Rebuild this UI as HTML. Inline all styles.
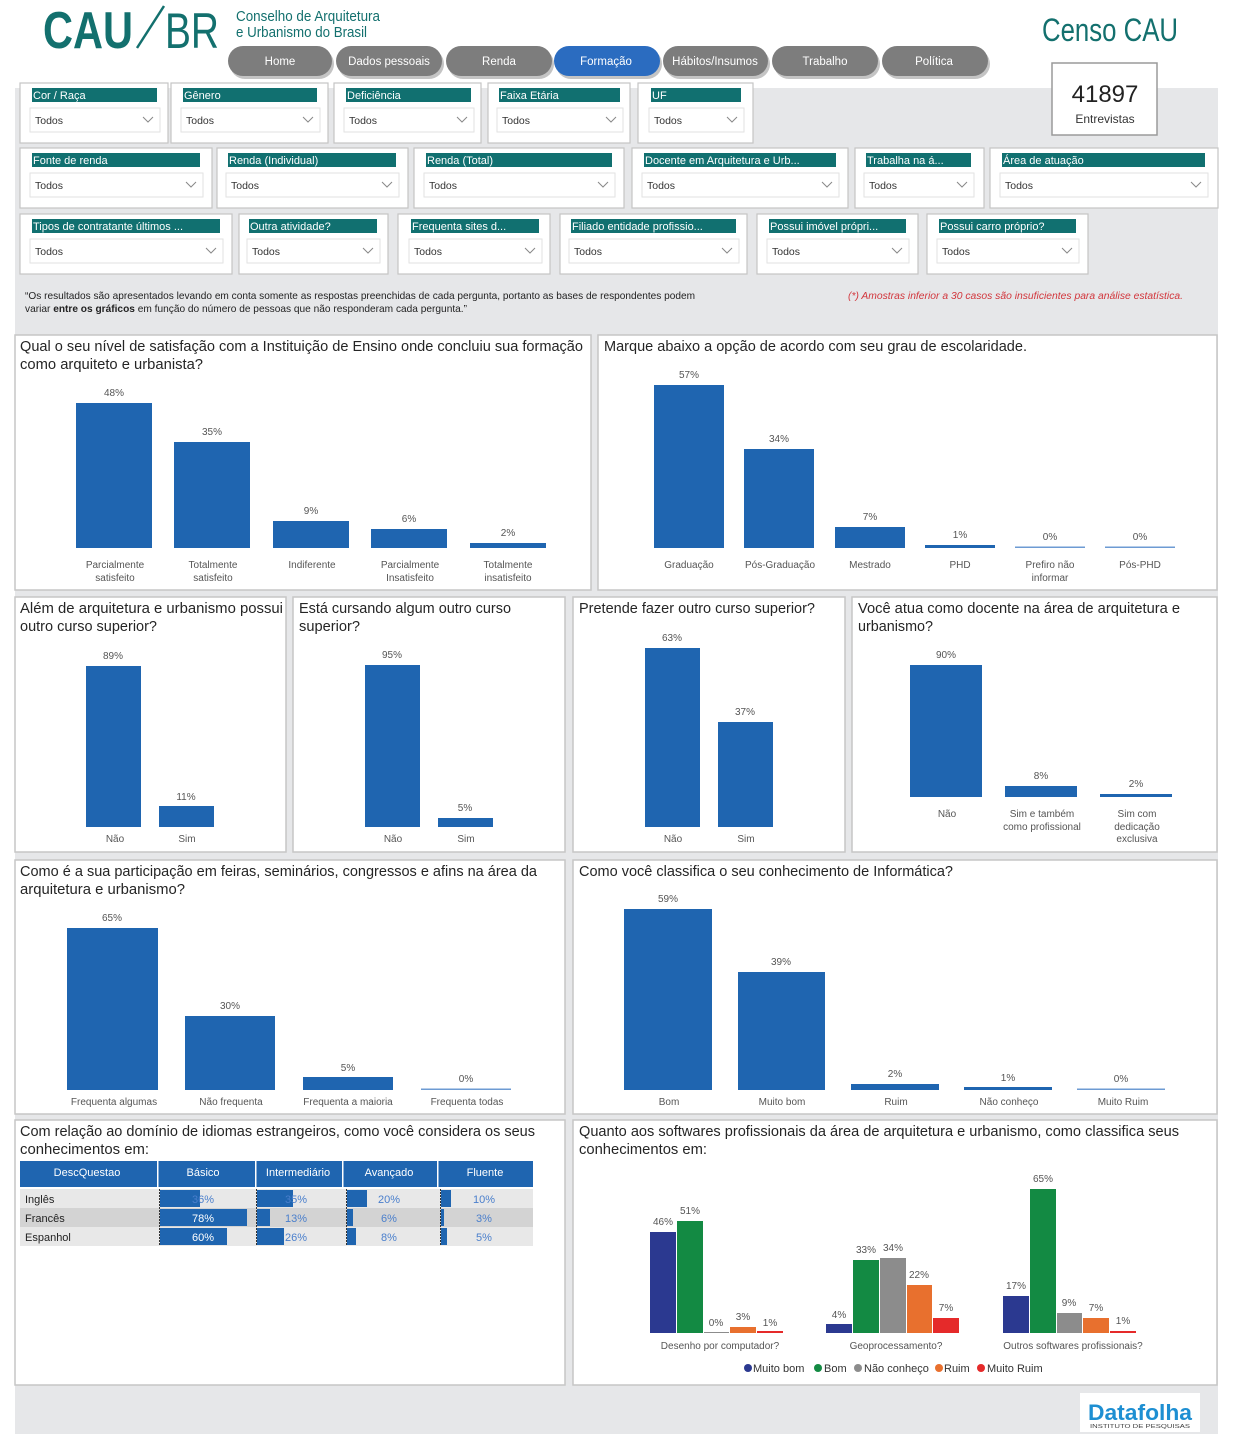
<!DOCTYPE html>
<html><head><meta charset="utf-8">
<style>
html,body{margin:0;padding:0;background:#fff;}
body{width:1240px;height:1434px;overflow:hidden;}
svg text{font-family:"Liberation Sans Narrow","Liberation Sans",sans-serif;}
.t{font-size:15px;fill:#252525;}
.v{font-size:10px;fill:#555;text-anchor:middle;}
.c{font-size:10px;fill:#555;text-anchor:middle;}
.fh{font-size:11px;fill:#fff;}
.fd{font-size:10.5px;fill:#333;}
.nav{font-size:11.5px;fill:#fff;text-anchor:middle;}
.panel{fill:#fff;stroke:#c6c6c6;stroke-width:1.5;}
.fbox{fill:#fff;stroke:#c4c4c4;stroke-width:1.2;}
.dd{fill:#fff;stroke:#e2e2e2;stroke-width:1;}
.chev{fill:none;stroke:#888;stroke-width:1;}
.b{fill:#1f65b0;}
</style></head>
<body>
<svg width="1240" height="1434" viewBox="0 0 1240 1434" xmlns="http://www.w3.org/2000/svg">
<rect x="0" y="0" width="1240" height="1434" fill="#fff"/>
<rect x="15" y="88" width="1203" height="1346" fill="#e6e7e9"/>

<!-- Logo -->
<text x="43" y="48" font-size="52" font-weight="bold" fill="#13706e" textLength="90" lengthAdjust="spacingAndGlyphs">CAU</text>
<line x1="164" y1="6" x2="137" y2="48" stroke="#13706e" stroke-width="2.5"/>
<text x="165" y="48" font-size="50" fill="#13706e" textLength="54" lengthAdjust="spacingAndGlyphs">BR</text>
<text x="236" y="21" font-size="15" fill="#13706e" textLength="144" lengthAdjust="spacingAndGlyphs">Conselho de Arquitetura</text>
<text x="236" y="37" font-size="15" fill="#13706e" textLength="131" lengthAdjust="spacingAndGlyphs">e Urbanismo do Brasil</text>
<text x="1042" y="41" font-size="32" fill="#13706e" textLength="136" lengthAdjust="spacingAndGlyphs">Censo CAU</text>

<!-- Nav -->
<g>
<rect x="230" y="49" width="104" height="30" rx="15" fill="#555" opacity="0.35"/>
<rect x="228" y="46" width="104" height="30" rx="15" fill="#7d7d7d"/>
<text class="nav" x="280" y="65">Home</text>
<rect x="338" y="49" width="106" height="30" rx="15" fill="#555" opacity="0.35"/>
<rect x="336" y="46" width="106" height="30" rx="15" fill="#7d7d7d"/>
<text class="nav" x="389" y="65">Dados pessoais</text>
<rect x="448" y="49" width="106" height="30" rx="15" fill="#555" opacity="0.35"/>
<rect x="446" y="46" width="106" height="30" rx="15" fill="#7d7d7d"/>
<text class="nav" x="499" y="65">Renda</text>
<rect x="556" y="49" width="106" height="30" rx="15" fill="#555" opacity="0.35"/>
<rect x="554" y="46" width="106" height="30" rx="15" fill="#2b6cc0"/>
<text class="nav" x="606" y="65">Formação</text>
<rect x="665" y="49" width="105" height="30" rx="15" fill="#555" opacity="0.35"/>
<rect x="663" y="46" width="105" height="30" rx="15" fill="#7d7d7d"/>
<text class="nav" x="715" y="65">Hábitos/Insumos</text>
<rect x="774" y="49" width="106" height="30" rx="15" fill="#555" opacity="0.35"/>
<rect x="772" y="46" width="106" height="30" rx="15" fill="#7d7d7d"/>
<text class="nav" x="825" y="65">Trabalho</text>
<rect x="884" y="49" width="106" height="30" rx="15" fill="#555" opacity="0.35"/>
<rect x="882" y="46" width="106" height="30" rx="15" fill="#7d7d7d"/>
<text class="nav" x="934" y="65">Política</text>
</g>

<!-- Entrevistas -->
<rect x="1052" y="63" width="105" height="72" fill="#fff" stroke="#9a9a9a" stroke-width="1.5"/>
<text x="1105" y="102" font-size="24" fill="#222" text-anchor="middle">41897</text>
<text x="1105" y="123" font-size="12" fill="#333" text-anchor="middle">Entrevistas</text>

<!-- Filters row 1 (y=83) -->
<g>
<rect class="fbox" x="20" y="83" width="148" height="60"/><rect x="32" y="88" width="125" height="14" fill="#117070"/><text class="fh" x="33" y="99">Cor / Raça</text><rect class="dd" x="30" y="108" width="130" height="24"/><text class="fd" x="35" y="124">Todos</text><polyline class="chev" points="143,117 148,122 153,117"/>
<rect class="fbox" x="171" y="83" width="157" height="60"/><rect x="183" y="88" width="134" height="14" fill="#117070"/><text class="fh" x="184" y="99">Gênero</text><rect class="dd" x="181" y="108" width="139" height="24"/><text class="fd" x="186" y="124">Todos</text><polyline class="chev" points="303,117 308,122 313,117"/>
<rect class="fbox" x="334" y="83" width="147" height="60"/><rect x="346" y="88" width="125" height="14" fill="#117070"/><text class="fh" x="347" y="99">Deficiência</text><rect class="dd" x="344" y="108" width="130" height="24"/><text class="fd" x="349" y="124">Todos</text><polyline class="chev" points="457,117 462,122 467,117"/>
<rect class="fbox" x="488" y="83" width="142" height="60"/><rect x="499" y="88" width="121" height="14" fill="#117070"/><text class="fh" x="500" y="99">Faixa Etária</text><rect class="dd" x="497" y="108" width="126" height="24"/><text class="fd" x="502" y="124">Todos</text><polyline class="chev" points="606,117 611,122 616,117"/>
<rect class="fbox" x="638" y="83" width="115" height="60"/><rect x="651" y="88" width="90" height="14" fill="#117070"/><text class="fh" x="652" y="99">UF</text><rect class="dd" x="649" y="108" width="95" height="24"/><text class="fd" x="654" y="124">Todos</text><polyline class="chev" points="727,117 732,122 737,117"/>
</g>

<!-- Filters row 2 (y=148) -->
<g>
<rect class="fbox" x="20" y="148" width="192" height="60"/><rect x="32" y="153" width="168" height="14" fill="#117070"/><text class="fh" x="33" y="164">Fonte de renda</text><rect class="dd" x="30" y="173" width="173" height="24"/><text class="fd" x="35" y="189">Todos</text><polyline class="chev" points="186,182 191,187 196,182"/>
<rect class="fbox" x="217" y="148" width="191" height="60"/><rect x="228" y="153" width="168" height="14" fill="#117070"/><text class="fh" x="229" y="164">Renda (Individual)</text><rect class="dd" x="226" y="173" width="173" height="24"/><text class="fd" x="231" y="189">Todos</text><polyline class="chev" points="382,182 387,187 392,182"/>
<rect class="fbox" x="414" y="148" width="210" height="60"/><rect x="426" y="153" width="186" height="14" fill="#117070"/><text class="fh" x="427" y="164">Renda (Total)</text><rect class="dd" x="424" y="173" width="191" height="24"/><text class="fd" x="429" y="189">Todos</text><polyline class="chev" points="598,182 603,187 608,182"/>
<rect class="fbox" x="632" y="148" width="216" height="60"/><rect x="644" y="153" width="192" height="14" fill="#117070"/><text class="fh" x="645" y="164">Docente em Arquitetura e Urb...</text><rect class="dd" x="642" y="173" width="197" height="24"/><text class="fd" x="647" y="189">Todos</text><polyline class="chev" points="822,182 827,187 832,182"/>
<rect class="fbox" x="855" y="148" width="129" height="60"/><rect x="866" y="153" width="105" height="14" fill="#117070"/><text class="fh" x="867" y="164">Trabalha na á...</text><rect class="dd" x="864" y="173" width="110" height="24"/><text class="fd" x="869" y="189">Todos</text><polyline class="chev" points="957,182 962,187 967,182"/>
<rect class="fbox" x="990" y="148" width="228" height="60"/><rect x="1002" y="153" width="203" height="14" fill="#117070"/><text class="fh" x="1003" y="164">Área de atuação</text><rect class="dd" x="1000" y="173" width="208" height="24"/><text class="fd" x="1005" y="189">Todos</text><polyline class="chev" points="1191,182 1196,187 1201,182"/>
</g>

<!-- Filters row 3 (y=214) -->
<g>
<rect class="fbox" x="20" y="214" width="212" height="60"/><rect x="32" y="219" width="188" height="14" fill="#117070"/><text class="fh" x="33" y="230">Tipos de contratante últimos ...</text><rect class="dd" x="30" y="239" width="193" height="24"/><text class="fd" x="35" y="255">Todos</text><polyline class="chev" points="206,248 211,253 216,248"/>
<rect class="fbox" x="239" y="214" width="149" height="60"/><rect x="249" y="219" width="128" height="14" fill="#117070"/><text class="fh" x="250" y="230">Outra atividade?</text><rect class="dd" x="247" y="239" width="133" height="24"/><text class="fd" x="252" y="255">Todos</text><polyline class="chev" points="363,248 368,253 373,248"/>
<rect class="fbox" x="398" y="214" width="152" height="60"/><rect x="411" y="219" width="128" height="14" fill="#117070"/><text class="fh" x="412" y="230">Frequenta sites d...</text><rect class="dd" x="409" y="239" width="133" height="24"/><text class="fd" x="414" y="255">Todos</text><polyline class="chev" points="525,248 530,253 535,248"/>
<rect class="fbox" x="560" y="214" width="187" height="60"/><rect x="571" y="219" width="165" height="14" fill="#117070"/><text class="fh" x="572" y="230">Filiado entidade profissio...</text><rect class="dd" x="569" y="239" width="170" height="24"/><text class="fd" x="574" y="255">Todos</text><polyline class="chev" points="722,248 727,253 732,248"/>
<rect class="fbox" x="757" y="214" width="161" height="60"/><rect x="769" y="219" width="137" height="14" fill="#117070"/><text class="fh" x="770" y="230">Possui imóvel própri...</text><rect class="dd" x="767" y="239" width="142" height="24"/><text class="fd" x="772" y="255">Todos</text><polyline class="chev" points="892,248 897,253 902,248"/>
<rect class="fbox" x="927" y="214" width="161" height="60"/><rect x="939" y="219" width="137" height="14" fill="#117070"/><text class="fh" x="940" y="230">Possui carro próprio?</text><rect class="dd" x="937" y="239" width="142" height="24"/><text class="fd" x="942" y="255">Todos</text><polyline class="chev" points="1062,248 1067,253 1072,248"/>
</g>

<!-- Notes -->
<text x="25" y="299" font-size="10.5" fill="#222" textLength="670" lengthAdjust="spacingAndGlyphs">“Os resultados são apresentados levando em conta somente as respostas preenchidas de cada pergunta, portanto as bases de respondentes podem</text>
<text x="25" y="312" font-size="10.5" fill="#222" textLength="442" lengthAdjust="spacingAndGlyphs">variar <tspan font-weight="bold">entre os gráficos</tspan> em função do número de pessoas que não responderam cada pergunta.”</text>
<text x="848" y="299" font-size="10" font-style="italic" fill="#d2363c" textLength="335" lengthAdjust="spacingAndGlyphs">(*) Amostras inferior a 30 casos são insuficientes para análise estatística.</text>

<!-- Panels -->
<rect class="panel" x="15" y="335" width="576" height="255"/>
<rect class="panel" x="598" y="335" width="619" height="255"/>
<rect class="panel" x="15" y="597" width="271" height="255"/>
<rect class="panel" x="293" y="597" width="272" height="255"/>
<rect class="panel" x="573" y="597" width="272" height="255"/>
<rect class="panel" x="852" y="597" width="365" height="255"/>
<rect class="panel" x="15" y="860" width="550" height="254"/>
<rect class="panel" x="573" y="860" width="644" height="254"/>
<rect class="panel" x="15" y="1120" width="550" height="265"/>
<rect class="panel" x="573" y="1120" width="644" height="265"/>

<!-- P1 -->
<text class="t" x="20" y="351" textLength="563" lengthAdjust="spacingAndGlyphs">Qual o seu nível de satisfação com a Instituição de Ensino onde concluiu sua formação</text>
<text class="t" x="20" y="369" textLength="183" lengthAdjust="spacingAndGlyphs">como arquiteto e urbanista?</text>
<rect class="b" x="76" y="403" width="76" height="145"/>
<rect class="b" x="174" y="442" width="76" height="106"/>
<rect class="b" x="273" y="521" width="76" height="27"/>
<rect class="b" x="371" y="529" width="76" height="19"/>
<rect class="b" x="470" y="543" width="76" height="5"/>
<text class="v" x="114" y="396">48%</text><text class="v" x="212" y="435">35%</text><text class="v" x="311" y="514">9%</text><text class="v" x="409" y="522">6%</text><text class="v" x="508" y="536">2%</text>
<text class="c" x="115" y="568">Parcialmente</text><text class="c" x="115" y="581">satisfeito</text>
<text class="c" x="213" y="568">Totalmente</text><text class="c" x="213" y="581">satisfeito</text>
<text class="c" x="312" y="568">Indiferente</text>
<text class="c" x="410" y="568">Parcialmente</text><text class="c" x="410" y="581">Insatisfeito</text>
<text class="c" x="508" y="568">Totalmente</text><text class="c" x="508" y="581">insatisfeito</text>

<!-- P2 -->
<text class="t" x="604" y="351" textLength="423" lengthAdjust="spacingAndGlyphs">Marque abaixo a opção de acordo com seu grau de escolaridade.</text>
<rect class="b" x="654" y="385" width="70" height="163"/>
<rect class="b" x="744" y="449" width="70" height="99"/>
<rect class="b" x="835" y="527" width="70" height="21"/>
<rect class="b" x="925" y="545" width="70" height="3"/>
<rect x="1015" y="546.5" width="70" height="1.5" fill="#6d9bd3"/>
<rect x="1105" y="546.5" width="70" height="1.5" fill="#6d9bd3"/>
<text class="v" x="689" y="378">57%</text><text class="v" x="779" y="442">34%</text><text class="v" x="870" y="520">7%</text><text class="v" x="960" y="538">1%</text><text class="v" x="1050" y="540">0%</text><text class="v" x="1140" y="540">0%</text>
<text class="c" x="689" y="568">Graduação</text>
<text class="c" x="780" y="568">Pós-Graduação</text>
<text class="c" x="870" y="568">Mestrado</text>
<text class="c" x="960" y="568">PHD</text>
<text class="c" x="1050" y="568">Prefiro não</text><text class="c" x="1050" y="581">informar</text>
<text class="c" x="1140" y="568">Pós-PHD</text>

<!-- P3 -->
<text class="t" x="20" y="613" textLength="263" lengthAdjust="spacingAndGlyphs">Além de arquitetura e urbanismo possui</text>
<text class="t" x="20" y="631" textLength="137" lengthAdjust="spacingAndGlyphs">outro curso superior?</text>
<rect class="b" x="86" y="666" width="55" height="161"/>
<rect class="b" x="159" y="806" width="55" height="21"/>
<text class="v" x="113" y="659">89%</text><text class="v" x="186" y="800">11%</text>
<text class="c" x="115" y="842">Não</text><text class="c" x="187" y="842">Sim</text>

<!-- P4 -->
<text class="t" x="299" y="613" textLength="212" lengthAdjust="spacingAndGlyphs">Está cursando algum outro curso</text>
<text class="t" x="299" y="631" textLength="61" lengthAdjust="spacingAndGlyphs">superior?</text>
<rect class="b" x="365" y="665" width="55" height="162"/>
<rect class="b" x="438" y="818" width="55" height="9"/>
<text class="v" x="392" y="658">95%</text><text class="v" x="465" y="811">5%</text>
<text class="c" x="393" y="842">Não</text><text class="c" x="466" y="842">Sim</text>

<!-- P5 -->
<text class="t" x="579" y="613" textLength="236" lengthAdjust="spacingAndGlyphs">Pretende fazer outro curso superior?</text>
<rect class="b" x="645" y="648" width="55" height="179"/>
<rect class="b" x="718" y="722" width="55" height="105"/>
<text class="v" x="672" y="641">63%</text><text class="v" x="745" y="715">37%</text>
<text class="c" x="673" y="842">Não</text><text class="c" x="746" y="842">Sim</text>

<!-- P6 -->
<text class="t" x="858" y="613" textLength="322" lengthAdjust="spacingAndGlyphs">Você atua como docente na área de arquitetura e</text>
<text class="t" x="858" y="631" textLength="75" lengthAdjust="spacingAndGlyphs">urbanismo?</text>
<rect class="b" x="910" y="665" width="72" height="132"/>
<rect class="b" x="1005" y="786" width="72" height="11"/>
<rect class="b" x="1100" y="794" width="72" height="3"/>
<text class="v" x="946" y="658">90%</text><text class="v" x="1041" y="779">8%</text><text class="v" x="1136" y="787">2%</text>
<text class="c" x="947" y="817">Não</text>
<text class="c" x="1042" y="817">Sim e também</text><text class="c" x="1042" y="830">como profissional</text>
<text class="c" x="1137" y="817">Sim com</text><text class="c" x="1137" y="830">dedicação</text><text class="c" x="1137" y="842">exclusiva</text>

<!-- P7 -->
<text class="t" x="20" y="876" textLength="517" lengthAdjust="spacingAndGlyphs">Como é a sua participação em feiras, seminários, congressos e afins na área da</text>
<text class="t" x="20" y="894" textLength="165" lengthAdjust="spacingAndGlyphs">arquitetura e urbanismo?</text>
<rect class="b" x="67" y="928" width="91" height="162"/>
<rect class="b" x="185" y="1016" width="90" height="74"/>
<rect class="b" x="303" y="1077" width="90" height="13"/>
<rect x="421" y="1088.5" width="90" height="1.5" fill="#6d9bd3"/>
<text class="v" x="112" y="921">65%</text><text class="v" x="230" y="1009">30%</text><text class="v" x="348" y="1071">5%</text><text class="v" x="466" y="1082">0%</text>
<text class="c" x="114" y="1105">Frequenta algumas</text>
<text class="c" x="231" y="1105">Não frequenta</text>
<text class="c" x="348" y="1105">Frequenta a maioria</text>
<text class="c" x="467" y="1105">Frequenta todas</text>

<!-- P8 -->
<text class="t" x="579" y="876" textLength="374" lengthAdjust="spacingAndGlyphs">Como você classifica o seu conhecimento de Informática?</text>
<rect class="b" x="624" y="909" width="88" height="181"/>
<rect class="b" x="738" y="972" width="87" height="118"/>
<rect class="b" x="851" y="1084" width="88" height="6"/>
<rect class="b" x="964" y="1087" width="88" height="3"/>
<rect x="1077" y="1088.5" width="88" height="1.5" fill="#6d9bd3"/>
<text class="v" x="668" y="902">59%</text><text class="v" x="781" y="965">39%</text><text class="v" x="895" y="1077">2%</text><text class="v" x="1008" y="1081">1%</text><text class="v" x="1121" y="1082">0%</text>
<text class="c" x="669" y="1105">Bom</text>
<text class="c" x="782" y="1105">Muito bom</text>
<text class="c" x="896" y="1105">Ruim</text>
<text class="c" x="1009" y="1105">Não conheço</text>
<text class="c" x="1123" y="1105">Muito Ruim</text>

<!-- P9 table -->
<text class="t" x="20" y="1136" textLength="515" lengthAdjust="spacingAndGlyphs">Com relação ao domínio de idiomas estrangeiros, como você considera os seus</text>
<text class="t" x="20" y="1154" textLength="129" lengthAdjust="spacingAndGlyphs">conhecimentos em:</text>
<rect x="20" y="1161" width="513" height="26" fill="#1f65b0"/>
<rect x="157" y="1161" width="1.5" height="26" fill="#fff"/>
<rect x="255" y="1161" width="1.5" height="26" fill="#fff"/>
<rect x="342" y="1161" width="1.5" height="26" fill="#fff"/>
<rect x="437" y="1161" width="1.5" height="26" fill="#fff"/>
<g font-size="11" fill="#fff" text-anchor="middle">
<text x="87" y="1176">DescQuestao</text><text x="203" y="1176">Básico</text><text x="298" y="1176">Intermediário</text><text x="389" y="1176">Avançado</text><text x="485" y="1176">Fluente</text>
</g>
<rect x="20" y="1189" width="513" height="19" fill="#e8e8e8"/>
<rect x="20" y="1208" width="513" height="19" fill="#d3d3d3"/>
<rect x="20" y="1227" width="513" height="19" fill="#e8e8e8"/>
<g font-size="11" fill="#222">
<text x="25" y="1203">Inglês</text><text x="25" y="1222">Francês</text><text x="25" y="1241">Espanhol</text>
</g>
<g fill="#1f65b0">
<rect x="160" y="1190" width="40" height="17"/><rect x="160" y="1209" width="87" height="17"/><rect x="160" y="1228" width="67" height="17"/>
<rect x="257" y="1190" width="36" height="17"/><rect x="257" y="1209" width="13" height="17"/><rect x="257" y="1228" width="27" height="17"/>
<rect x="347" y="1190" width="20" height="17"/><rect x="347" y="1209" width="6" height="17"/><rect x="347" y="1228" width="9" height="17"/>
<rect x="441" y="1190" width="10" height="17"/><rect x="441" y="1209" width="3" height="17"/><rect x="441" y="1228" width="6" height="17"/>
</g>
<g stroke="#333" stroke-width="1" stroke-dasharray="2,1">
<line x1="159.5" y1="1189" x2="159.5" y2="1246"/><line x1="256.5" y1="1189" x2="256.5" y2="1246"/><line x1="346.5" y1="1189" x2="346.5" y2="1246"/><line x1="440.5" y1="1189" x2="440.5" y2="1246"/>
</g>
<g font-size="11" text-anchor="middle" fill="#4a7fcc">
<text x="203" y="1203">36%</text><text x="203" y="1222" fill="#fff">78%</text><text x="203" y="1241" fill="#fff">60%</text>
<text x="296" y="1203">35%</text><text x="296" y="1222">13%</text><text x="296" y="1241">26%</text>
<text x="389" y="1203">20%</text><text x="389" y="1222">6%</text><text x="389" y="1241">8%</text>
<text x="484" y="1203">10%</text><text x="484" y="1222">3%</text><text x="484" y="1241">5%</text>
</g>

<!-- P10 -->
<text class="t" x="579" y="1136" textLength="600" lengthAdjust="spacingAndGlyphs">Quanto aos softwares profissionais da área de arquitetura e urbanismo, como classifica seus</text>
<text class="t" x="579" y="1154" textLength="128" lengthAdjust="spacingAndGlyphs">conhecimentos em:</text>
<g>
<rect x="650" y="1232" width="26" height="101" fill="#2b3990"/>
<rect x="677" y="1221" width="26" height="112" fill="#138a43"/>
<rect x="704" y="1332" width="25" height="1" fill="#8c8c8c"/>
<rect x="730" y="1327" width="26" height="6" fill="#e8702e"/>
<rect x="757" y="1331" width="26" height="2" fill="#e52a2a"/>
<rect x="826" y="1324" width="26" height="9" fill="#2b3990"/>
<rect x="853" y="1260" width="26" height="73" fill="#138a43"/>
<rect x="880" y="1258" width="26" height="75" fill="#8c8c8c"/>
<rect x="907" y="1285" width="25" height="48" fill="#e8702e"/>
<rect x="933" y="1318" width="26" height="15" fill="#e52a2a"/>
<rect x="1003" y="1296" width="26" height="37" fill="#2b3990"/>
<rect x="1030" y="1189" width="26" height="144" fill="#138a43"/>
<rect x="1057" y="1313" width="25" height="20" fill="#8c8c8c"/>
<rect x="1083" y="1318" width="26" height="15" fill="#e8702e"/>
<rect x="1110" y="1331" width="26" height="2" fill="#e52a2a"/>
</g>
<g class="v">
<text class="v" x="663" y="1225">46%</text><text class="v" x="690" y="1214">51%</text><text class="v" x="716" y="1326">0%</text><text class="v" x="743" y="1320">3%</text><text class="v" x="770" y="1326">1%</text>
<text class="v" x="839" y="1318">4%</text><text class="v" x="866" y="1253">33%</text><text class="v" x="893" y="1251">34%</text><text class="v" x="919" y="1278">22%</text><text class="v" x="946" y="1311">7%</text>
<text class="v" x="1016" y="1289">17%</text><text class="v" x="1043" y="1182">65%</text><text class="v" x="1069" y="1306">9%</text><text class="v" x="1096" y="1311">7%</text><text class="v" x="1123" y="1324">1%</text>
</g>
<text class="c" x="720" y="1349">Desenho por computador?</text>
<text class="c" x="896" y="1349">Geoprocessamento?</text>
<text class="c" x="1073" y="1349">Outros softwares profissionais?</text>
<g font-size="11" fill="#333">
<circle cx="748" cy="1368" r="4" fill="#2b3990"/><text x="753" y="1372">Muito bom</text>
<circle cx="818" cy="1368" r="4" fill="#138a43"/><text x="824" y="1372">Bom</text>
<circle cx="858" cy="1368" r="4" fill="#8c8c8c"/><text x="864" y="1372">Não conheço</text>
<circle cx="939" cy="1368" r="4" fill="#e8702e"/><text x="944" y="1372">Ruim</text>
<circle cx="981" cy="1368" r="4" fill="#e52a2a"/><text x="987" y="1372">Muito Ruim</text>
</g>

<!-- Datafolha -->
<rect x="1080" y="1393" width="120" height="39" fill="#fff"/>
<text x="1088" y="1420" font-size="22" font-weight="bold" fill="#1e8fd2" textLength="104" lengthAdjust="spacingAndGlyphs">Datafolha</text>
<text x="1090" y="1428" font-size="5.5" fill="#444" textLength="100" lengthAdjust="spacingAndGlyphs">INSTITUTO DE PESQUISAS</text>
</svg>
</body></html>
